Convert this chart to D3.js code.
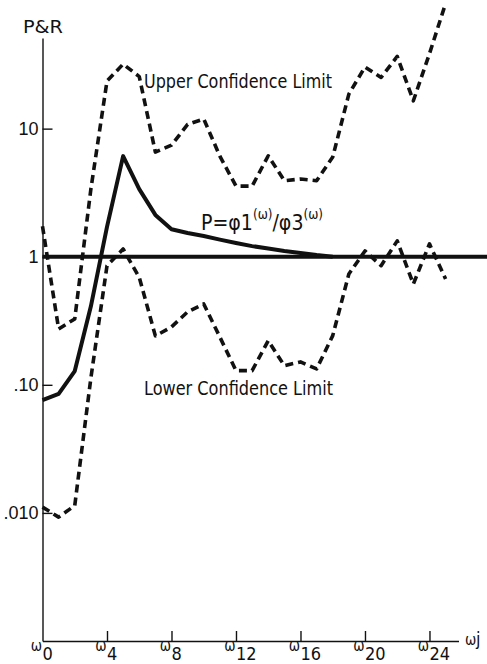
<!DOCTYPE html>
<html>
<head>
<meta charset="utf-8">
<script src="https://cdn.jsdelivr.net/npm/d3@7"></script>
<style>
  body { margin: 0; background: #fff; }
  svg { display: block; font-family: "Liberation Sans Narrow", "DejaVu Sans Condensed", "Liberation Sans", sans-serif; }
</style>
</head>
<body>
<div id="chart"></div>
<script>
// frequency index j (omega_j)
const freqIndex = [0, 1, 2, 3, 4, 5, 6, 7, 8, 9, 10, 11, 12, 13, 14, 15, 16, 17, 18, 19, 20, 21, 22, 23, 24, 25];
// P = phi1(w)/phi3(w), j = 0..18 (then it sits on 1)
const ratioP = [0.076, 0.085, 0.128, 0.41, 1.71, 6.1, 3.37, 2.12, 1.64, 1.53, 1.45, 1.36, 1.28, 1.21, 1.16, 1.11, 1.07, 1.03, 1.0];
const upperLimit = [1.73, 0.273, 0.327, 3.37, 23.5, 31.9, 25.5, 6.56, 7.43, 10.8, 11.9, 6.1, 3.56, 3.56, 6.14, 3.92, 4.04, 3.92, 6.0, 18.6, 30.3, 25.1, 36.6, 16.5, 38.5, 95];
const lowerLimit = [0.0111, 0.00927, 0.0114, 0.113, 0.85, 1.15, 0.69, 0.241, 0.283, 0.371, 0.428, 0.236, 0.129, 0.129, 0.221, 0.141, 0.151, 0.133, 0.242, 0.733, 1.11, 0.851, 1.33, 0.612, 1.26, 0.67];
// axis ticks
const xTickValues = [0, 4, 8, 12, 16, 20, 24];
const xTickLabels = ["0", "4", "8", "12", "16", "20", "24"];
const yTickValues = [10, 1, 0.1, 0.01];
const yTickLabels = ["10", "1", ".10", ".010"];
const xMax = 25.8;   // right end of the frequency axis
const yMin = 0.001;  // value at the frequency axis
const yTop = 51;     // value at top of the P&R axis

const width = 487, height = 664;

const svg = d3.select("#chart").append("svg")
  .attr("width", width)
  .attr("height", height);

const x = d3.scaleLinear()
  .domain([0, xMax])
  .range([42.5, 458.5]);

const y = d3.scaleLog()
  .domain([yMin, yTop])
  .range([641, 38]);

// Y axis, ticks pointing inward
const yAxis = svg.append("g")
  .attr("transform", "translate(" + x(0) + ",0)")
  .call(d3.axisLeft(y)
    .tickValues(yTickValues)
    .tickFormat(function (d, i) { return yTickLabels[i]; })
    .tickSizeInner(-10)
    .tickSizeOuter(0)
    .tickPadding(4));
yAxis.select(".domain").attr("stroke", "#111").attr("stroke-width", 1.4);
yAxis.selectAll(".tick line").attr("stroke", "#111").attr("stroke-width", 1.4);
yAxis.selectAll(".tick text")
  .attr("font-size", 18)
  .attr("font-family", null)
  .attr("fill", "#111");

// X axis
const xAxis = svg.append("g")
  .attr("transform", "translate(0," + y(yMin) + ")")
  .call(d3.axisBottom(x)
    .tickValues(xTickValues.slice(1))
    .tickFormat("")
    .tickSizeInner(-10)
    .tickSizeOuter(0));
xAxis.select(".domain").attr("stroke", "#111").attr("stroke-width", 1.4);
xAxis.selectAll(".tick line").attr("stroke", "#111").attr("stroke-width", 1.4);

// omega_j tick labels: small omega then the index
const xLab = svg.append("g").selectAll("g")
  .data(xTickValues)
  .enter().append("g");
xLab.append("text")
  .attr("x", function (d) { return x(d) - 0.5; })
  .attr("y", 651)
  .attr("text-anchor", "end")
  .attr("font-size", 15)
  .attr("fill", "#111")
  .text("ω");
xLab.append("text")
  .attr("x", function (d) { return x(d); })
  .attr("y", 660)
  .attr("font-size", 18)
  .attr("fill", "#111")
  .text(function (d, i) { return xTickLabels[i]; });

svg.append("text")
  .attr("x", 465)
  .attr("y", 645)
  .attr("font-size", 15)
  .attr("fill", "#111")
  .text("ω");
svg.append("text")
  .attr("x", 476)
  .attr("y", 645)
  .attr("font-size", 18)
  .attr("fill", "#111")
  .text("j");

// axis title
svg.append("text")
  .attr("x", 23)
  .attr("y", 33)
  .attr("font-size", 17.5)
  .attr("textLength", 40)
  .attr("lengthAdjust", "spacingAndGlyphs")
  .attr("fill", "#111")
  .text("P&R");

// reference line at 1
svg.append("line")
  .attr("x1", x(0))
  .attr("x2", width)
  .attr("y1", y(1))
  .attr("y2", y(1))
  .attr("stroke", "#111")
  .attr("stroke-width", 4);

const line = d3.line()
  .x(function (d, i) { return x(freqIndex[i]); })
  .y(function (d) { return y(d); });

// confidence limits
[upperLimit, lowerLimit].forEach(function (s) {
  svg.append("path")
    .datum(s)
    .attr("d", line)
    .attr("fill", "none")
    .attr("stroke", "#111")
    .attr("stroke-width", 3.6)
    .attr("stroke-dasharray", "8,5")
    .attr("stroke-linejoin", "round");
});

// P ratio
svg.append("path")
  .datum(ratioP)
  .attr("d", line)
  .attr("fill", "none")
  .attr("stroke", "#111")
  .attr("stroke-width", 4)
  .attr("stroke-linejoin", "round");

// labels
svg.append("text")
  .attr("x", 144)
  .attr("y", 88)
  .attr("font-size", 20)
  .attr("textLength", 188)
  .attr("lengthAdjust", "spacingAndGlyphs")
  .attr("fill", "#111")
  .text("Upper Confidence Limit");

svg.append("text")
  .attr("x", 144)
  .attr("y", 395)
  .attr("font-size", 20)
  .attr("textLength", 189)
  .attr("lengthAdjust", "spacingAndGlyphs")
  .attr("fill", "#111")
  .text("Lower Confidence Limit");

const formula = svg.append("text")
  .attr("x", 201)
  .attr("y", 230)
  .attr("font-size", 22)
  .attr("textLength", 122)
  .attr("lengthAdjust", "spacingAndGlyphs")
  .attr("fill", "#111");
formula.append("tspan").text("P=φ1");
formula.append("tspan").attr("dy", -11).attr("font-size", 14).text("(ω)");
formula.append("tspan").attr("dy", 11).text("/φ3");
formula.append("tspan").attr("dy", -11).attr("font-size", 14).text("(ω)");
</script>
</body>
</html>
